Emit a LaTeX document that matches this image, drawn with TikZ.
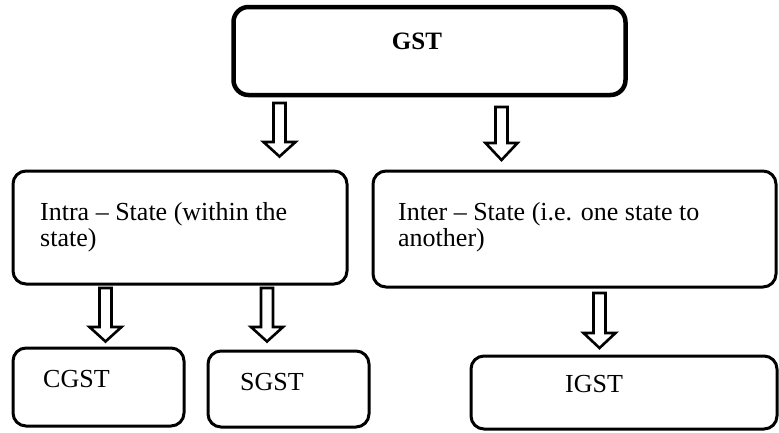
\documentclass[tikz,border=0pt]{standalone}
\usepackage{fontspec}
\setmainfont{Liberation Serif}
\begin{document}
\begin{tikzpicture}[x=1pt,y=-1pt,
  box/.style={draw=black, rounded corners=13pt, line width=3pt, inner sep=0pt},
  topbox/.style={box, line width=4.5pt, rounded corners=15pt},
  lbl/.style={inner sep=0pt, font=\fontsize{26}{26.5}\selectfont, align=left},
  barrow/.style={draw=black, fill=white, line width=2.6pt, line join=miter}]
\useasboundingbox (0,0) rectangle (779,432);
\newcommand\blockarrow[4]{% cx, ytop, yhead, ytip
  \draw[barrow] (#1-6,#2) -- (#1+6,#2) -- (#1+6,#3) -- (#1+16,#3) -- (#1,#4)
    -- (#1-16,#3) -- (#1-6,#3) -- cycle;}
% boxes
\node[topbox, minimum width=392pt, minimum height=88pt] (gst) at (429.5,51) {};
\node[box, minimum width=334pt, minimum height=113pt] (intra) at (180,227.5) {};
\node[box, minimum width=403pt, minimum height=116pt] (inter) at (574.5,229) {};
\node[box, minimum width=171pt, minimum height=78pt] (cgst) at (98.5,387) {};
\node[box, minimum width=161pt, minimum height=76pt] (sgst) at (288.5,389) {};
\node[box, minimum width=306pt, minimum height=73pt] (igst) at (624,392.5) {};
% texts
\node[lbl, anchor=base, font=\fontsize{25}{26}\selectfont\bfseries] (tgst) at (417,49) {GST};
\node[lbl, anchor=base west] (tintra) at (40,246.5) {Intra – State (within the\\state)};
\node[lbl, anchor=base west] (tinter) at (398,246.5) {Inter – State (i.e. one state to\\another)};
\node[lbl, anchor=base west] (tcgst) at (43,387) {CGST};
\node[lbl, anchor=base west] (tsgst) at (240,390) {SGST};
\node[lbl, anchor=base west] (tigst) at (565,392) {IGST};
% block arrows
\blockarrow{279.5}{103}{142}{156.5}
\blockarrow{501.5}{107}{143}{160}
\blockarrow{105.5}{288}{327}{341.5}
\blockarrow{267}{288}{327}{341.5}
\blockarrow{599.5}{293}{333}{348}
\end{tikzpicture}
\end{document}
